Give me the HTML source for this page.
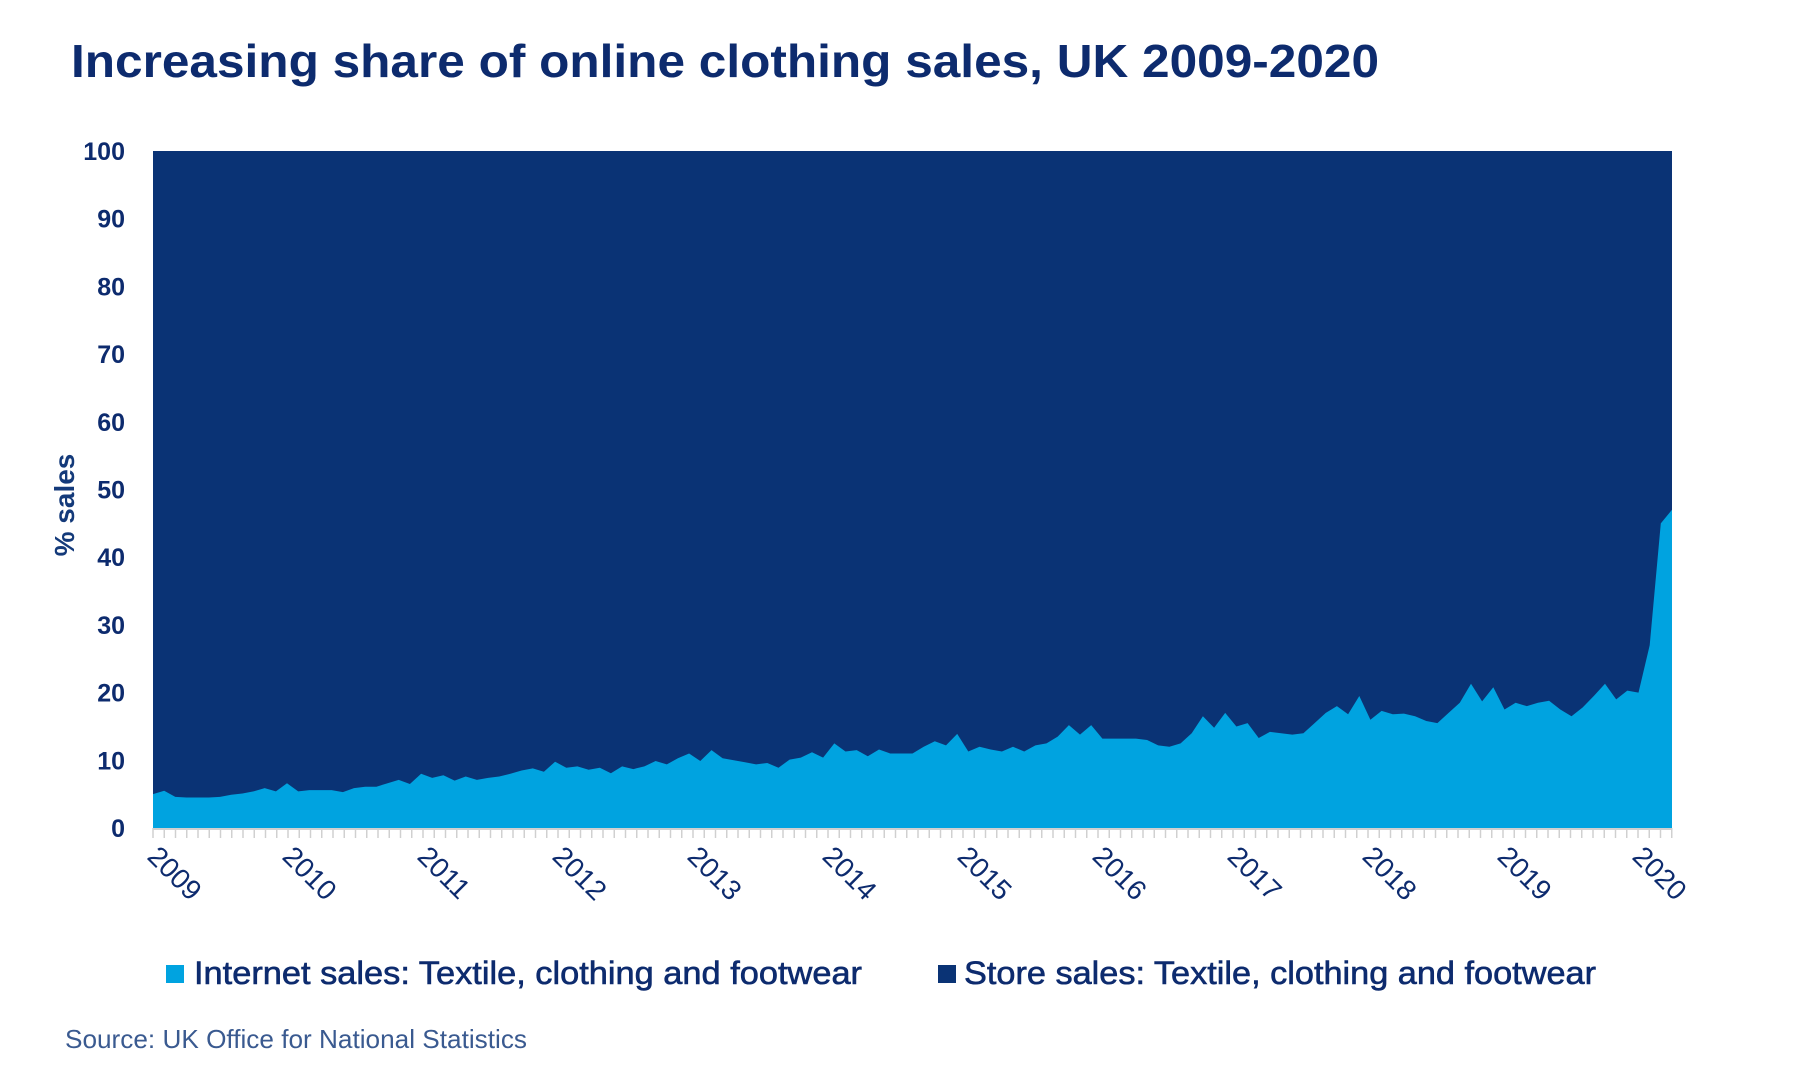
<!DOCTYPE html>
<html><head><meta charset="utf-8"><style>
html,body{margin:0;padding:0;background:#fff;width:1800px;height:1080px;overflow:hidden}
svg{display:block}
text{font-family:"Liberation Sans",sans-serif}
</style></head><body>
<svg id="s" width="1800" height="1080" xmlns="http://www.w3.org/2000/svg">
<text x="71" y="77" font-size="46" font-weight="bold" fill="#0d2b6e" textLength="1308" lengthAdjust="spacingAndGlyphs">Increasing share of online clothing sales, UK 2009-2020</text>
<g id="plot"></g>
<text transform="translate(74,505) rotate(-90)" text-anchor="middle" font-size="28" font-weight="bold" fill="#143a7a">% sales</text>
<rect x="166" y="965" width="18" height="18" fill="#00a3e0"/>
<text x="194" y="984" font-size="32" fill="#0d2b6e" stroke="#0d2b6e" stroke-width="0.6" textLength="668" lengthAdjust="spacingAndGlyphs">Internet sales: Textile, clothing and footwear</text>
<rect x="938" y="965" width="18" height="18" fill="#0a3375"/>
<text x="964" y="984" font-size="32" fill="#0d2b6e" stroke="#0d2b6e" stroke-width="0.6" textLength="632" lengthAdjust="spacingAndGlyphs">Store sales: Textile, clothing and footwear</text>
<text x="65" y="1048" font-size="26" fill="#3a5a90" textLength="462" lengthAdjust="spacingAndGlyphs">Source: UK Office for National Statistics</text>
</svg>
<script>
var d=[5,5.5,4.6,4.5,4.5,4.5,4.6,4.9,5.1,5.4,5.9,5.4,
6.6,5.4,5.6,5.6,5.6,5.3,5.9,6.1,6.1,6.6,7.1,6.5,
8.0,7.4,7.8,7.0,7.6,7.1,7.4,7.6,8.0,8.5,8.8,8.3,
9.8,8.9,9.1,8.6,8.9,8.1,9.1,8.7,9.1,9.9,9.4,10.3,
11,9.9,11.5,10.3,10,9.7,9.4,9.6,8.9,10.1,10.4,11.2,
10.4,12.5,11.3,11.5,10.6,11.6,11,11,11,12,12.8,12.2,
13.9,11.3,12,11.6,11.3,12,11.3,12.2,12.5,13.5,15.2,13.8,
15.2,13.2,13.2,13.2,13.2,13,12.2,12,12.5,14,16.5,14.8,
17,15,15.5,13.3,14.2,14,13.8,14,15.5,17,18,16.8,
19.5,16,17.3,16.8,16.9,16.5,15.8,15.5,17,18.5,21.3,18.7,
20.8,17.5,18.5,18,18.5,18.8,17.5,16.5,17.8,19.5,21.3,19,
20.3,20,27,45,47];
var L=153,R=1672,T=151,B=828,n=d.length,dx=(R-L)/(n-1),k=(B-T)/100;
var g=document.getElementById('plot'),h='';
h+='<rect x="'+L+'" y="'+T+'" width="'+(R-L)+'" height="'+(B-T)+'" fill="#0a3375"/>';
var p='M'+L+','+B;
for(var i=0;i<n;i++){p+=' L'+(L+i*dx).toFixed(1)+','+(B-d[i]*k).toFixed(1);}
p+=' L'+R+','+B+'Z';
h+='<path d="'+p+'" fill="#00a3e0"/>';
h+='<line x1="'+L+'" y1="'+(B+1)+'" x2="'+R+'" y2="'+(B+1)+'" stroke="#d0d0d0" stroke-width="2"/>';
for(var m=0;m<=135;m++){var x=L+m*11.25;if(x>R+1)break;h+='<line x1="'+x+'" y1="'+B+'" x2="'+x+'" y2="'+(B+10)+'" stroke="#d0d0d0" stroke-width="1.5"/>';}
for(var v=0;v<=100;v+=10){var y=B-v*k;h+='<text x="125" y="'+(y+9)+'" text-anchor="end" font-size="25" font-weight="bold" fill="#0d2b6e">'+v+'</text>';}
for(var yr=0;yr<=11;yr++){var x=L+yr*135;h+='<text transform="translate('+(x-7)+',858) rotate(45)" font-size="28" fill="#0d2b6e">'+(2009+yr)+'</text>';}
g.innerHTML=h;
</script>
</body></html>
